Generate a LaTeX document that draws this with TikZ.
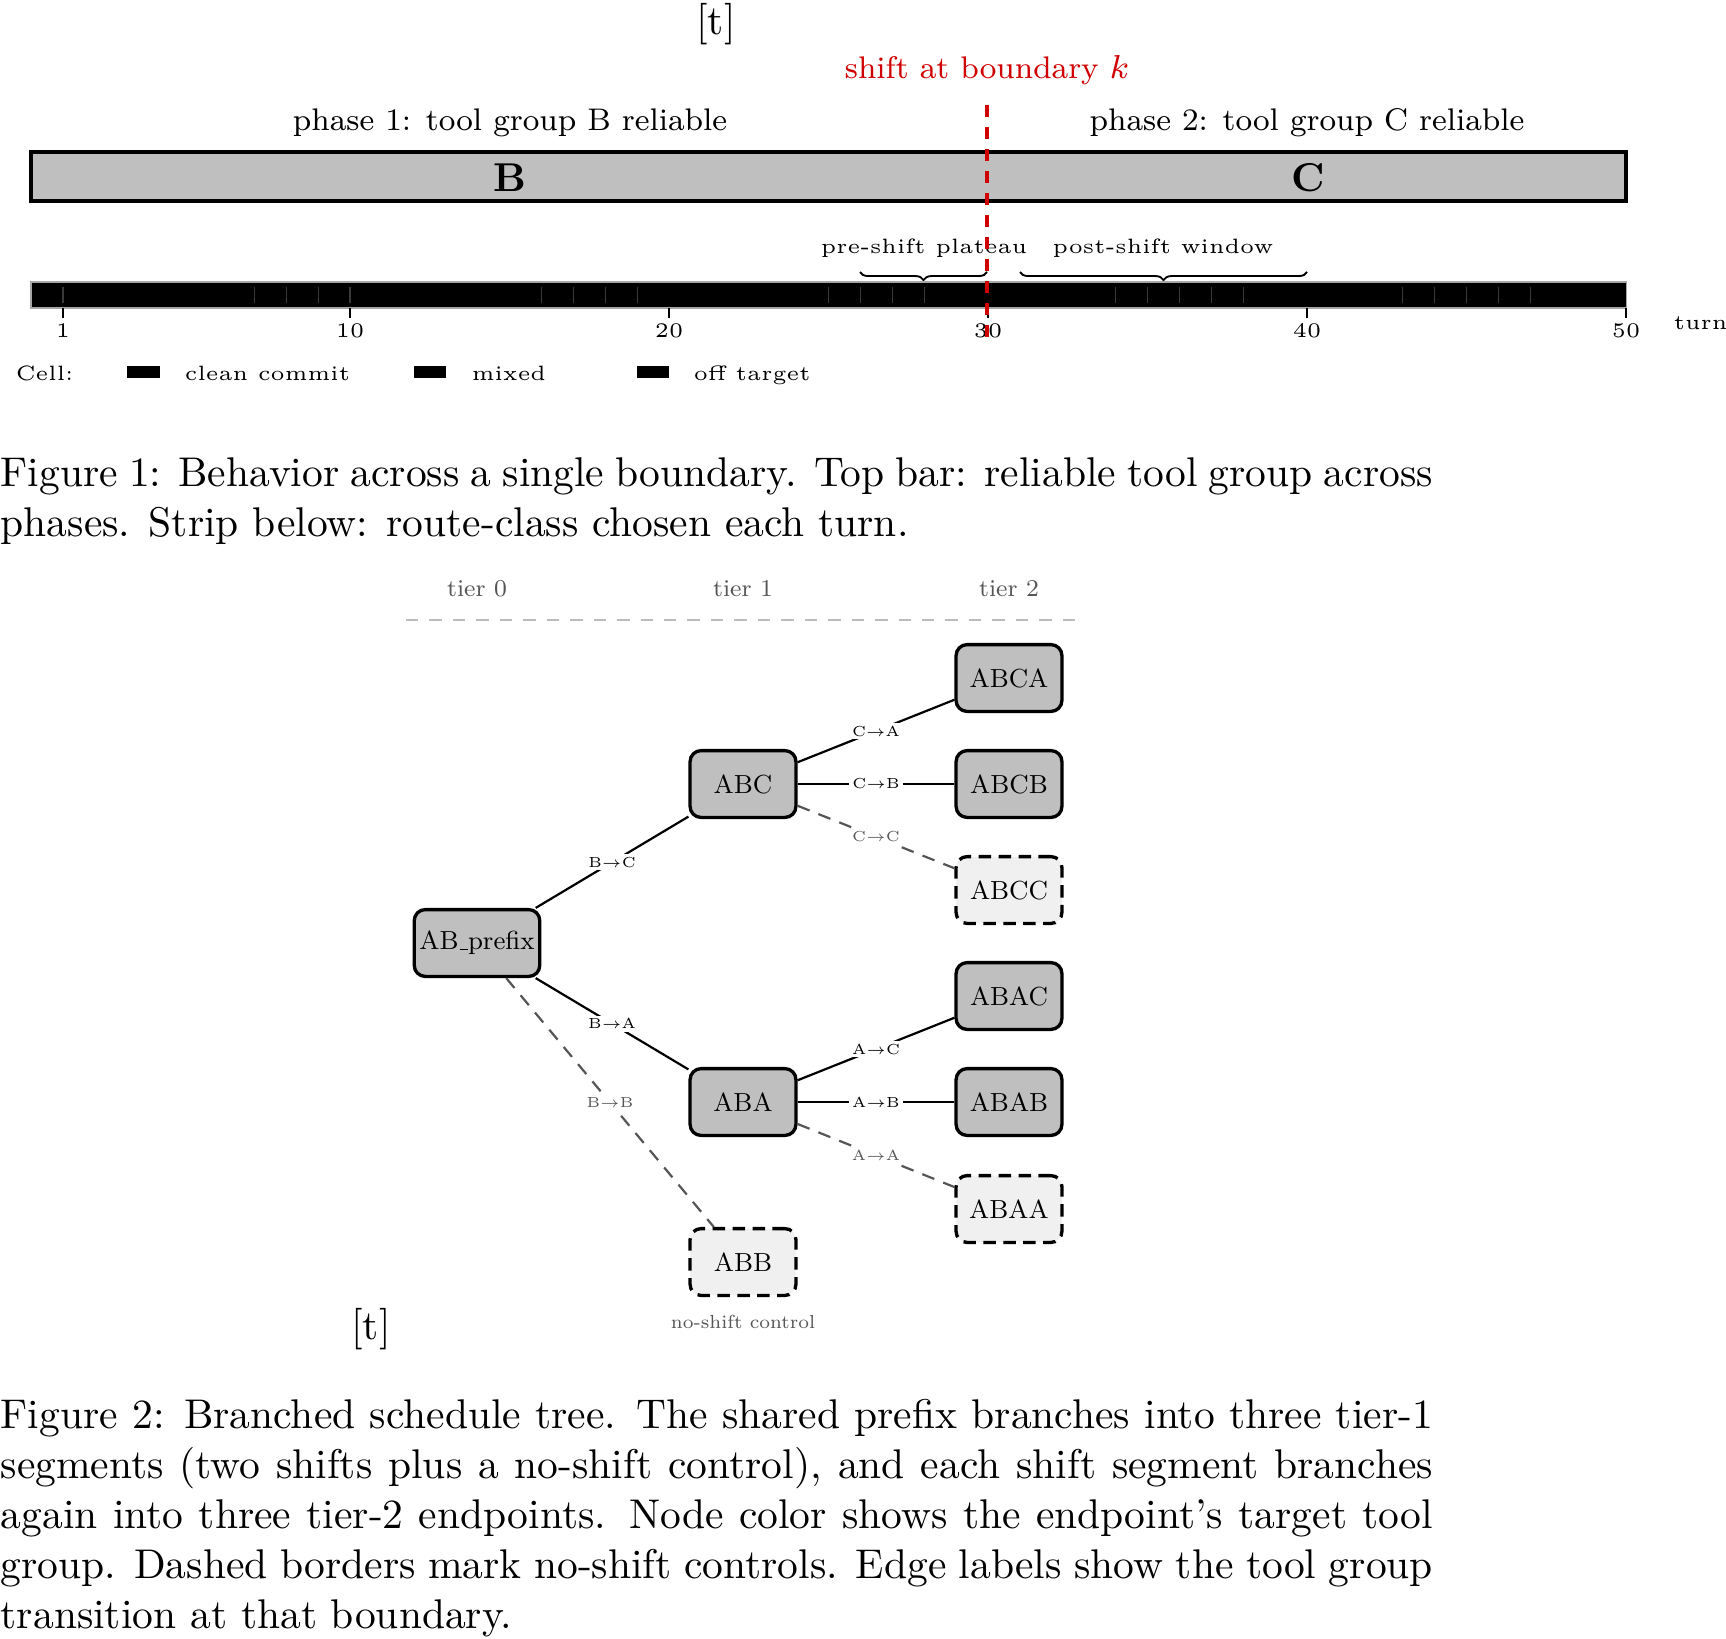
\documentclass[tikz,border=0pt]{standalone}
\usepackage{graphicx}
\usetikzlibrary{decorations.pathreplacing}
\definecolor{barfill}{HTML}{BFBFBF}
\definecolor{ctrlfill}{HTML}{F0F0F0}
\definecolor{shiftred}{HTML}{D00000}
\definecolor{lblgray}{HTML}{555555}
\definecolor{tiergray}{HTML}{BBBBBB}
\newcommand{\capfont}{\fontsize{10}{12}\selectfont}
\newcommand{\usc}{\leavevmode\kern.06em\vbox{\hrule width .3em}}
% figure-2 text: designed size scaled by 0.7
\newcommand{\ftwo}[2]{\scalebox{0.7}{\fontsize{#1}{#1}\selectfont #2}}
\begin{document}
\begin{tikzpicture}[x=0.2409pt,y=-0.2409pt,
  txt/.style={inner sep=0pt, anchor=base},
  seg/.style={draw=black, line width=0.8pt, rounded corners=2.65pt, fill=barfill,
    minimum width=25.5pt, minimum height=16.1pt, inner xsep=1.25pt},
  ctrl/.style={seg, fill=ctrlfill, dash pattern=on 3pt off 1.8pt},
  edgeline/.style={line width=0.53pt, draw=black},
  ctrledge/.style={line width=0.53pt, draw=lblgray, dash pattern=on 3.1pt off 2.3pt},
  elab/.style={fill=white, inner sep=0.7pt, text=black},
  ctrllab/.style={elab, text=lblgray},
  cellsep/.style={draw=gray!45!black, line width=0.3pt},
  tickline/.style={draw=black, line width=0.45pt},
  bracedeco/.style={decorate, decoration={brace, amplitude=1.95pt, mirror}, line width=0.45pt},
  small1/.style={font=\fontsize{5}{6}\selectfont},
  mid1/.style={font=\fontsize{7.53}{9}\selectfont}
]
\useasboundingbox (0,0) rectangle (1726,1638);

% ---------------- Figure 1 ----------------
\node[txt, font=\capfont] (t1) at (716,34) {[t]};
\node[txt, mid1, text=shiftred] (shiftlab) at (987,78) {shift at boundary $k$};
\node[txt, mid1] (ph1) at (510,130) {phase 1: tool group B reliable};
\node[txt, mid1] (ph2) at (1307,130) {phase 2: tool group C reliable};

\draw[fill=barfill, line width=0.8pt] (31,152) rectangle (1626,201);
\node[txt, font=\fontsize{9.7}{11.6}\selectfont\bfseries] (bB) at (510,191) {B};
\node[txt, font=\fontsize{9.7}{11.6}\selectfont\bfseries] (bC) at (1308,191) {C};

% braces
\draw[bracedeco] (860,272) -- (987,272);
\draw[bracedeco] (1020,272) -- (1307,272);
\node[txt, small1] (pre) at (924,253) {pre-shift plateau};
\node[txt, small1] (post) at (1163,253) {post-shift window};

% strip
\fill[black] (31,282) rectangle (1626,308);
\draw[gray!70, line width=0.25pt] (31,282) rectangle (1626,308);
\foreach \t in {1,7,8,9,10,16,17,18,19,25,26,27,28,34,35,36,37,38,43,44,45,46,47}
  \draw[cellsep] ({31.1+31.9*\t},287) -- ({31.1+31.9*\t},303);
\foreach \t in {1,10,20,30,40,50}{
  \draw[tickline] ({31.1+31.9*\t},308) -- ({31.1+31.9*\t},318);
  \node[txt, font=\fontsize{5}{6}\selectfont] (tk\t) at ({31.1+31.9*\t},337) {\t};
}
\node[txt, anchor=base west, small1] (turn) at (1673,329) {turn};

% legend
\node[txt, anchor=base west, small1] (cell) at (15,380) {Cell:};
\fill[black] (127,366) rectangle (160,378);
\node[txt, anchor=base west, small1] (lg1) at (184,380) {clean commit};
\fill[black] (414,366) rectangle (446,378);
\node[txt, anchor=base west, small1] (lg2) at (471,380) {mixed};
\fill[black] (637,366) rectangle (669,378);
\node[txt, anchor=base west, small1] (lg3) at (693,380) {off target};

% red boundary line
\coordinate (redtop) at (987,105);
\coordinate (redbot) at (987,342);
\draw[shiftred, line width=0.97pt, dash pattern=on 2.8pt off 2.5pt] (redtop) -- (redbot);

% caption 1
\node[txt, anchor=base west, font=\capfont] (c1a) at (0,486) {\hbox to 345pt{Figure 1: Behavior across a single boundary. Top bar: reliable tool group across}};
\node[txt, anchor=base west, font=\capfont] (c1b) at (0,536) {phases. Strip below: route-class chosen each turn.};

% ---------------- Figure 2 ----------------
\node[txt, text=lblgray] (tier0) at (477,596) {\ftwo{8.3}{tier 0}};
\node[txt, text=lblgray] (tier1) at (743,596) {\ftwo{8.3}{tier 1}};
\node[txt, text=lblgray] (tier2) at (1009,596) {\ftwo{8.3}{tier 2}};
\coordinate (tl) at (406,620);
\coordinate (tr) at (1081,620);
\draw[tiergray, line width=0.53pt, dash pattern=on 3pt off 2.65pt] (tl) -- (tr);

\node[seg] (pfx) at (477,943) {\ftwo{9}{AB\usc prefix}};
\node[seg] (abc) at (743,784) {\ftwo{9}{ABC}};
\node[seg] (aba) at (743,1102) {\ftwo{9}{ABA}};
\node[ctrl] (abb) at (743,1262) {\ftwo{9}{ABB}};
\node[seg] (abca) at (1009,678) {\ftwo{9}{ABCA}};
\node[seg] (abcb) at (1009,784) {\ftwo{9}{ABCB}};
\node[ctrl] (abcc) at (1009,890) {\ftwo{9}{ABCC}};
\node[seg] (abac) at (1009,996) {\ftwo{9}{ABAC}};
\node[seg] (abab) at (1009,1102) {\ftwo{9}{ABAB}};
\node[ctrl] (abaa) at (1009,1209) {\ftwo{9}{ABAA}};

\draw[edgeline] (pfx) -- node[elab] {\ftwo{5}{B$\to$C}} (abc);
\draw[edgeline] (pfx) -- node[elab] {\ftwo{5}{B$\to$A}} (aba);
\draw[ctrledge] (pfx) -- node[ctrllab] {\ftwo{5}{B$\to$B}} (abb);
\draw[edgeline] (abc) -- node[elab] {\ftwo{5}{C$\to$A}} (abca);
\draw[edgeline] (abc) -- node[elab] {\ftwo{5}{C$\to$B}} (abcb);
\draw[ctrledge] (abc) -- node[ctrllab] {\ftwo{5}{C$\to$C}} (abcc);
\draw[edgeline] (aba) -- node[elab] {\ftwo{5}{A$\to$C}} (abac);
\draw[edgeline] (aba) -- node[elab] {\ftwo{5}{A$\to$B}} (abab);
\draw[ctrledge] (aba) -- node[ctrllab] {\ftwo{5}{A$\to$A}} (abaa);

\node[txt, text=lblgray] (note) at (743,1328) {\ftwo{6.5}{no-shift control}};
\node[txt, font=\capfont] (t2) at (371,1339) {[t]};

% caption 2
\node[txt, anchor=base west, font=\capfont] (c2a) at (0,1428) {\hbox to 345pt{Figure 2: Branched schedule tree. The shared prefix branches into three tier-1}};
\node[txt, anchor=base west, font=\capfont] (c2b) at (0,1478) {\hbox to 345pt{segments (two shifts plus a no-shift control), and each shift segment branches}};
\node[txt, anchor=base west, font=\capfont] (c2c) at (0,1528) {\hbox to 345pt{again into three tier-2 endpoints. Node color shows the endpoint's target tool}};
\node[txt, anchor=base west, font=\capfont] (c2d) at (0,1578) {\hbox to 345pt{group. Dashed borders mark no-shift controls. Edge labels show the tool group}};
\node[txt, anchor=base west, font=\capfont] (c2e) at (0,1628) {transition at that boundary.};
\end{tikzpicture}
\end{document}
